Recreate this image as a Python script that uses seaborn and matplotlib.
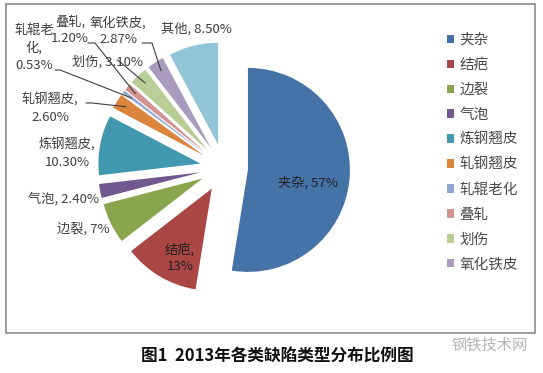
import numpy as np
import matplotlib
matplotlib.use("Agg")
import matplotlib.pyplot as plt
import matplotlib.patches as mpatches
import seaborn as sns

# data
categories = ["夹杂", "结疤", "边裂", "气泡", "炼钢翘皮", "轧钢翘皮",
              "轧辊老化", "叠轧", "划伤", "氧化铁皮", "其他"]
values = [57, 13, 7, 2.4, 10.3, 2.6, 0.53, 1.2, 3.1, 2.87, 8.5]
value_labels = ["57%", "13%", "7%", "2.40%", "10.30%", "2.60%",
                "0.53%", "1.20%", "3.10%", "2.87%", "8.50%"]
legend_items = categories[:10]

colors = sns.color_palette([
    "#4572A7", "#AA4643", "#89A54E", "#71588F", "#4198AF", "#DB843D",
    "#93A9CF", "#D19392", "#B9CD96", "#A99BBD", "#92C5D7",
])

sns.set_theme(style="white")
plt.rcParams["font.family"] = ["Noto Sans CJK SC", "DejaVu Sans"]

W, H = 543, 373


def px(x, y):
    # pixel coords (top-left origin) -> data coords
    return x, H - y


# label layout (pixel centres) and how the name/value are joined
label_pos = [(308, 183), (180, 258), (83, 229), (63, 199), (67, 153),
             (50, 108), (34, 48), (70, 30), (107, 62), (118, 31), (196, 29)]
label_join = [", ", ",\n", ", ", ", ", ",\n", ",\n", "\n,\n", ",\n",
              ", ", ",\n", ", "]
# leader lines: label-side start, elbow
leader = {5: ((86, 103), (92, 103)),
          6: ((55, 70), (60, 70)),
          7: ((88, 43), (95, 43)),
          8: ((117, 60), (119, 61)),
          9: ((142, 43), (152, 43))}

fig = plt.figure(figsize=(W / 100, H / 100), dpi=100)
ax = fig.add_axes([0, 0, 1, 1])

R = 102
centre = px(224, 168)
expl = 24
wedges, _ = ax.pie(values, colors=colors, startangle=90, counterclock=False,
                   explode=[expl] * len(values), radius=R, center=centre,
                   wedgeprops=dict(linewidth=0))
ax.set_xlim(0, W)
ax.set_ylim(0, H)
ax.set_aspect("equal")
ax.axis("off")

# data labels
for i, (cat, vl) in enumerate(zip(categories, value_labels)):
    if i == 6:
        text = "轧辊老\n化,\n" + vl
    else:
        text = cat + label_join[i] + vl
    inside = i in (0, 1)
    ax.text(*px(*label_pos[i]), text, ha="center", va="center",
            fontsize=9.5, color="#222222" if inside else "#404040",
            linespacing=1.4)

# leader lines to the wedge tips
for i, (start, elbow) in leader.items():
    w = wedges[i]
    mid = np.deg2rad((w.theta1 + w.theta2) / 2)
    cx, cy = w.center
    tip = (cx + 0.9 * R * np.cos(mid), cy + 0.9 * R * np.sin(mid))
    xs = [start[0], elbow[0], tip[0]]
    ys = [H - start[1], H - elbow[1], tip[1]]
    ax.plot(xs, ys, color="#404040", lw=0.8)

# legend
leg = ax.legend(wedges[:10], legend_items, loc="upper left",
                bbox_to_anchor=(447 / W, 1 - 33 / H), frameon=False,
                fontsize=10.5, handlelength=0.5, handleheight=0.5,
                handletextpad=0.35, labelspacing=0.75, borderpad=0,
                borderaxespad=0)
for t in leg.get_texts():
    t.set_color("#4a4a4a")

# chart border
ax.add_patch(mpatches.Rectangle(px(6, 333), 529, 329, fill=False,
                                edgecolor="#8C8C8C", lw=1.2, clip_on=False))

# caption and watermark
ax.text(*px(277, 357), "图1  2013年各类缺陷类型分布比例图", ha="center",
        va="center", fontsize=12, fontweight="bold", color="#111111")
ax.text(*px(490, 345), "钢铁技术网", ha="center", va="center",
        fontsize=11, color="#B5B5B5")

fig.savefig("out.png", dpi=100)
